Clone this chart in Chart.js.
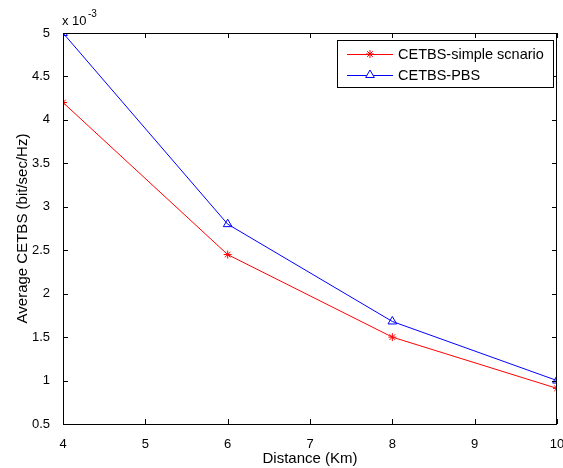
<!DOCTYPE html>
<html>
<head>
<meta charset="utf-8">
<script src="https://cdn.jsdelivr.net/npm/chart.js@4"></script>
<style>
  body { margin: 0; background: #fff; }
</style>
</head>
<body>
<canvas id="cetbsChart" width="563" height="468"></canvas>
<script>
// distances in Km
const distances = [4, 6, 8, 10];
// values shown in units of 1e-3 bit/sec/Hz
const simpleScenario = [4.2, 2.45, 1.5, 0.91];
const pbs = [5.0, 2.8, 1.68, 1.0];
const xTicks = [4, 5, 6, 7, 8, 9, 10];
const yTicks = [0.5, 1, 1.5, 2, 2.5, 3, 3.5, 4, 4.5, 5];
const seriesNames = ['CETBS-simple scnario', 'CETBS-PBS'];

const FONT = '"Liberation Sans", Arial, sans-serif';

// MATLAB-like box with inward ticks, exponent label, axis titles, legend
const matlabAxes = {
    id: 'matlabAxes',
    afterDraw(chart) {
        const { ctx, chartArea: a, scales } = chart;
        const x = scales.x, y = scales.y;
        ctx.save();
        ctx.strokeStyle = '#000';
        ctx.lineWidth = 1;
        ctx.strokeRect(a.left + 0.5, a.top + 0.5, a.right - a.left - 1, a.bottom - a.top);
        const t = 5;
        ctx.beginPath();
        xTicks.forEach(v => {
            const px = Math.round(x.getPixelForValue(v)) + 0.5;
            ctx.moveTo(px, a.bottom); ctx.lineTo(px, a.bottom - t);
            ctx.moveTo(px, a.top); ctx.lineTo(px, a.top + t);
        });
        yTicks.forEach(v => {
            const py = Math.round(y.getPixelForValue(v)) + 0.5;
            ctx.moveTo(a.left, py); ctx.lineTo(a.left + t, py);
            ctx.moveTo(a.right, py); ctx.lineTo(a.right - t, py);
        });
        ctx.stroke();

        // exponent label
        ctx.fillStyle = '#000';
        ctx.font = '13px ' + FONT;
        ctx.textBaseline = 'alphabetic';
        ctx.textAlign = 'left';
        ctx.fillText('x 10', a.left - 1, a.top - 8);
        ctx.font = '10px ' + FONT;
        ctx.fillText('-3', a.left + 25, a.top - 16);

        // axis titles
        ctx.font = '15px ' + FONT;
        ctx.textAlign = 'center';
        ctx.fillText('Distance (Km)', (a.left + a.right) / 2, 463);
        ctx.save();
        ctx.translate(27, (a.top + a.bottom) / 2);
        ctx.rotate(-Math.PI / 2);
        ctx.fillText('Average CETBS (bit/sec/Hz)', 0, 0);
        ctx.restore();

        // legend
        const lx = 337, ly = 40, lw = 216, lh = 47;
        ctx.fillStyle = '#fff';
        ctx.fillRect(lx, ly, lw, lh);
        ctx.strokeStyle = '#000';
        ctx.strokeRect(lx + 0.5, ly + 0.5, lw, lh);
        ctx.font = '14.5px ' + FONT;
        chart.data.datasets.forEach((ds, i) => {
            const yy = ly + 14 + i * 21;
            ctx.strokeStyle = ds.borderColor;
            ctx.beginPath();
            ctx.moveTo(lx + 10, yy + 0.5); ctx.lineTo(lx + 56, yy + 0.5);
            ctx.stroke();
            ctx.fillStyle = '#fff';
            Chart.helpers.drawPoint(ctx, {
                pointStyle: ds.pointStyle, radius: ds.pointRadius, borderWidth: 1
            }, lx + 33, yy);
            ctx.fillStyle = '#000';
            ctx.textAlign = 'left';
            ctx.textBaseline = 'middle';
            ctx.fillText(ds.label, lx + 61, yy + 1);
        });
        ctx.restore();
    }
};

const ctx = document.getElementById('cetbsChart').getContext('2d');
new Chart(ctx, {
    type: 'line',
    data: {
        datasets: [
            {
                label: seriesNames[0],
                data: distances.map((d, i) => ({ x: d, y: simpleScenario[i] })),
                borderColor: '#ff0000',
                backgroundColor: '#ff0000',
                borderWidth: 1,
                pointStyle: 'star',
                pointRadius: 4,
                pointBorderWidth: 1
            },
            {
                label: seriesNames[1],
                data: distances.map((d, i) => ({ x: d, y: pbs[i] })),
                borderColor: '#0000ff',
                backgroundColor: 'rgba(0,0,0,0)',
                borderWidth: 1,
                pointStyle: 'triangle',
                pointRadius: 5,
                pointBorderWidth: 1
            }
        ]
    },
    options: {
        responsive: false,
        animation: false,
        layout: { padding: { top: 33, right: 3, left: 0, bottom: 0 } },
        plugins: { legend: { display: false }, tooltip: { enabled: false } },
        scales: {
            x: {
                type: 'linear',
                min: 4, max: 10,
                afterBuildTicks: s => { s.ticks = xTicks.map(v => ({ value: v })); },
                afterFit: s => { s.height = 44; s.paddingLeft = 0; s.paddingRight = 0; },
                grid: { display: false },
                border: { display: false },
                ticks: { color: '#000', font: { size: 13, family: FONT }, padding: 5, maxRotation: 0 }
            },
            y: {
                min: 0.5, max: 5,
                afterBuildTicks: s => { s.ticks = yTicks.map(v => ({ value: v })); },
                afterFit: s => { s.width = 63; s.paddingTop = 0; s.paddingBottom = 0; },
                grid: { display: false },
                border: { display: false },
                ticks: {
                    color: '#000', font: { size: 13, family: FONT }, padding: 5,
                    callback: v => String(v)
                }
            }
        }
    },
    plugins: [matlabAxes]
});
</script>
</body>
</html>
